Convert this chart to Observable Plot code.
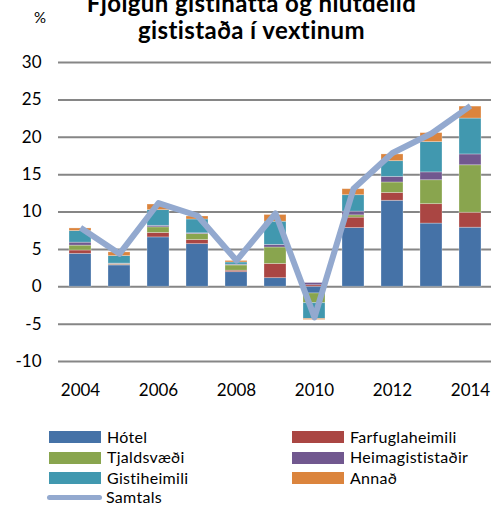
<!DOCTYPE html>
<html><head><meta charset="utf-8">
<script src="https://cdn.jsdelivr.net/npm/d3@7"></script>
<script src="https://cdn.jsdelivr.net/npm/@observablehq/plot@0.6"></script>
<style>
body{margin:0;background:#fff;font-family:Lato,sans-serif;}
#wrap{position:relative;width:503px;height:506px;overflow:hidden;}
#title{position:absolute;left:0;width:503px;top:-11px;text-align:center;font-weight:bold;font-size:24px;line-height:27px;color:#000;letter-spacing:0.4px;}
#pct{position:absolute;left:34px;top:8px;font-size:15px;}
#chart{position:absolute;left:0;top:50px;}
#legend{position:absolute;left:0;top:427px;width:503px;font-size:16px;letter-spacing:0.3px;}
.item{position:absolute;height:18px;line-height:18px;white-space:nowrap;}
.sw{display:inline-block;width:52px;height:12px;vertical-align:middle;margin-right:6px;position:relative;top:-1px;}
.ln{display:inline-block;width:55px;height:5px;border-radius:3px;vertical-align:middle;margin-right:4px;position:relative;top:-1px;}
</style></head>
<body><div id="wrap">
<div id="title">Fjölgun gistinátta og hlutdeild<br>gististaða í vextinum</div>
<div id="pct">%</div>
<div id="chart"></div>
<div id="legend"></div>
</div>
<script>
const years = [2004,2005,2006,2007,2008,2009,2010,2011,2012,2013,2014];
const seriesNames = ["Hótel","Farfuglaheimili","Tjaldsvæði","Heimagististaðir","Gistiheimili","Annað"];
const hotel   = [4.4, 2.85, 6.6, 5.7, 1.95, 1.15, -0.9, 7.85, 11.5, 8.45, 7.9];
const farfugl = [0.45, 0.1, 0.6, 0.55, 0.2, 1.9, 0.2, 1.4, 1.05, 2.6, 2.0];
const tjald   = [0.65, 0.1, 0.75, 0.8, 0.7, 2.2, -1.3, 0.3, 1.4, 3.2, 6.35];
const heima   = [0.4, 0.05, 0.2, 0.1, 0.1, 0.35, 0.3, 0.5, 0.75, 1.05, 1.45];
const gisti   = [1.55, 1.0, 2.1, 1.85, 0.3, 3.1, -2.1, 2.2, 2.1, 4.05, 4.8];
const annad   = [0.35, 0.5, 0.75, 0.4, 0.2, 0.9, -0.15, 0.8, 0.9, 1.2, 1.6];
const samtals = [7.9, 4.4, 11.2, 9.5, 3.5, 9.8, -4.1, 13.1, 17.9, 20.5, 24.2];
const xTicks = [2004,2006,2008,2010,2012,2014];
const yTicks = [-10,-5,0,5,10,15,20,25,30];
const colors = ["#4572A7","#AA4643","#89A54E","#71588F","#4198AF","#DB843D"];
const lineColor = "#93A9CF";

const values = [hotel, farfugl, tjald, heima, gisti, annad];
const rows = [];
seriesNames.forEach((s, i) => years.forEach((y, j) => rows.push({year: y, series: s, value: values[i][j]})));
const totals = years.map((y, j) => ({year: y, value: samtals[j]}));

const chart = Plot.plot({
  width: 503, height: 372,
  marginTop: 12, marginBottom: 61, marginLeft: 58, marginRight: 12,
  style: {fontFamily: "Lato, sans-serif", fontSize: "17px", color: "#000", background: "transparent"},
  x: {domain: years, paddingInner: 0.44, paddingOuter: 0.22, label: null, axis: null},
  y: {domain: [-10, 30], label: null, axis: null},
  color: {domain: seriesNames, range: colors},
  marks: [
    Plot.ruleY(yTicks, {stroke: "#868686", strokeWidth: 2}),
    Plot.barY(rows, {x: "year", y: "value", fill: "series", order: seriesNames, stroke: "#ffffff", strokeOpacity: 0.35, strokeWidth: 0.8}),
    Plot.line(totals, {x: "year", y: "value", stroke: lineColor, strokeWidth: 6, strokeLinecap: "butt"}),
    Plot.text(xTicks, {x: d => d, frameAnchor: "bottom", dy: 29, lineAnchor: "middle", text: d => String(d), fontSize: 17, fill: "#000"}),
    Plot.text(yTicks, {y: d => d, frameAnchor: "left", dx: -17, textAnchor: "end", text: d => String(d), fontSize: 17, fill: "#000"})
  ]
});
document.getElementById("chart").appendChild(chart);

const legend = document.getElementById("legend");
const pos = [[49,0.5],[292,0.5],[49,21],[292,21],[49,41.5],[292,41.5]];
seriesNames.forEach((s, i) => {
  const d = document.createElement("div");
  d.className = "item";
  d.style.left = pos[i][0] + "px"; d.style.top = pos[i][1] + "px";
  d.innerHTML = `<span class="sw" style="background:${colors[i]}"></span>${s}`;
  legend.appendChild(d);
});
const d = document.createElement("div");
d.className = "item"; d.style.left = "47px"; d.style.top = "61px";
d.innerHTML = `<span class="ln" style="background:${lineColor}"></span>Samtals`;
legend.appendChild(d);
</script>
</body></html>
